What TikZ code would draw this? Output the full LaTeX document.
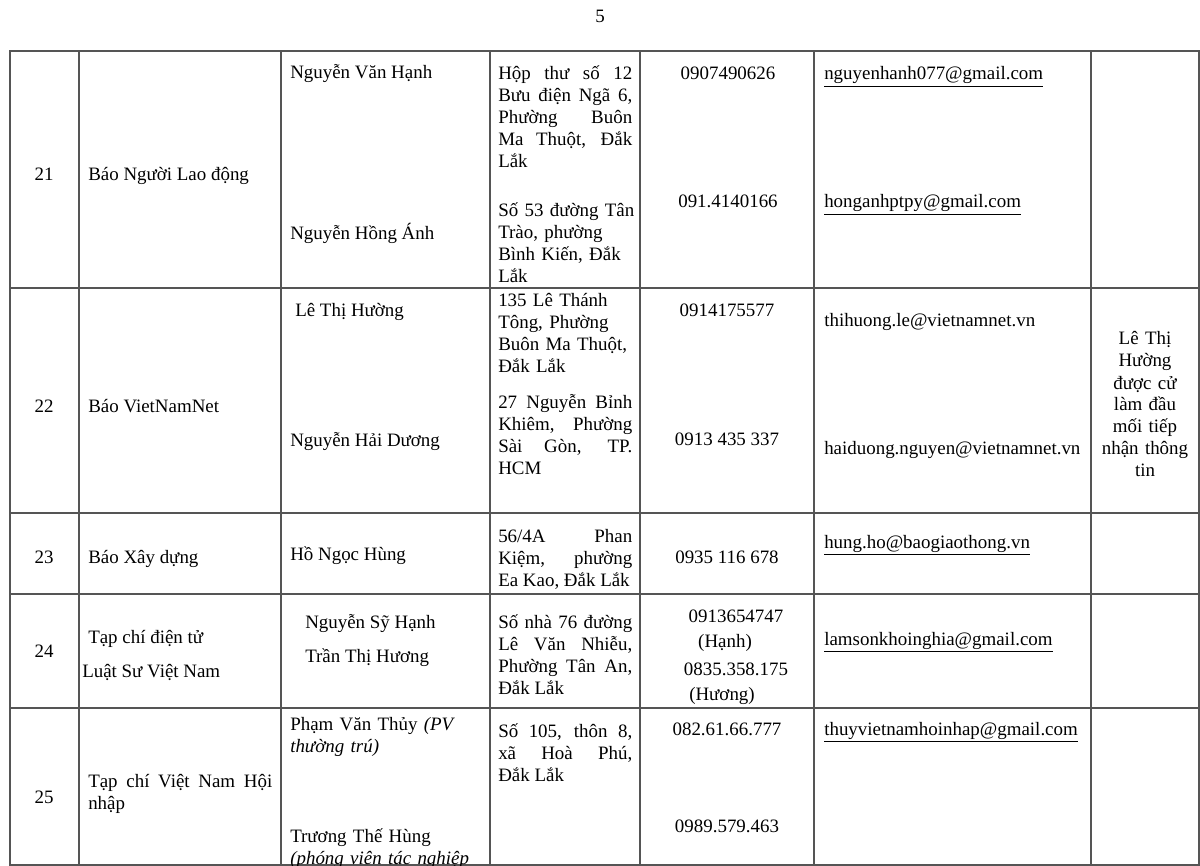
\documentclass[tikz,border=0pt]{standalone}
\usepackage{fontspec}
\setmainfont{Liberation Serif}
\definecolor{rulegray}{RGB}{85, 85, 85}
\tolerance=9999
\hyphenpenalty=10000
\tikzset{
  cell/.style={inner sep=0pt, font=\fontsize{14.2}{16.5}\selectfont},
  lft/.style={cell, anchor=base west},
  ctr/.style={cell, anchor=base},
  block/.style={cell, anchor=base west, text width=#1, align=left},
  jblock/.style={cell, anchor=base west, text width=#1, align=justify},
  note/.style={cell, anchor=base, text width=#1, align=center},
  rule/.style={draw=rulegray, line width=1.1pt}
}

\begin{document}
\begin{tikzpicture}[x=0.75pt, y=-0.75pt]
  \useasboundingbox (0,0) rectangle (1200,866);

  % Page number
  \node[ctr] (page) at (600,23) {5};

  % Grid
  \draw[rule] (10,51) rectangle (1199,865);
  \draw[rule] (10,288) -- (1199,288) (10,513) -- (1199,513)
    (10,594) -- (1199,594) (10,708) -- (1199,708);
  \draw[rule] (79,51) -- (79,865) (281,51) -- (281,865) (490,51) -- (490,865)
    (640,51) -- (640,865) (814,51) -- (814,865) (1091,51) -- (1091,865);

  % Row 21
  \node[ctr] (num21) at (44,181) {21};
  \node[lft] (org21) at (88,181) {Báo Người Lao động};
  \node[lft] (name21a) at (290,79) {Nguyễn Văn Hạnh};
  \node[lft] (name21b) at (290,240) {Nguyễn Hồng Ánh};
  \node[jblock=100.5pt] (addr21a) at (498,80) {Hộp thư số 12\linebreak Bưu điện Ngã 6,\linebreak Phường Buôn\linebreak Ma Thuột, Đắk\linebreak Lắk};
  \node[block=108pt] (addr21b) at (498,217) {Số 53 đường Tân\\ Trào, phường\\ Bình Kiến, Đắk\\ Lắk};
  \node[ctr] (tel21a) at (728,80) {0907490626};
  \node[ctr] (tel21b) at (728,208) {091.4140166};
  \node[lft] (mail21a) at (824,80) {\underline{nguyenhanh077@gmail.com}};
  \node[lft] (mail21b) at (824,208) {\underline{honganhptpy@gmail.com}};

  % Row 22
  \node[ctr] (num22) at (44,412) {22};
  \node[lft] (org22) at (88,412) {Báo VietNamNet};
  \node[lft] (name22a) at (295,317) {Lê Thị Hường};
  \node[lft] (name22b) at (290,446) {Nguyễn Hải Dương};
  \node[block=108pt] (addr22a) at (498,307) {135 Lê Thánh\\ Tông, Phường\\ Buôn Ma Thuột,\\ Đắk Lắk};
  \node[jblock=100.5pt] (addr22b) at (498,408) {27 Nguyễn Bỉnh\linebreak Khiêm, Phường\linebreak Sài Gòn, TP.\linebreak HCM};
  \node[ctr] (tel22a) at (727,317) {0914175577};
  \node[ctr] (tel22b) at (727,445) {0913 435 337};
  \node[lft] (mail22a) at (824,327) {thihuong.le@vietnamnet.vn};
  \node[lft] (mail22b) at (824,455) {haiduong.nguyen@vietnamnet.vn};
  \node[note=70pt] (note22) at (1145,345) {Lê Thị\\ Hường\\ được cử\\ làm đầu\\ mối tiếp\\ nhận thông\\ tin};

  % Row 23
  \node[ctr] (num23) at (44,563) {23};
  \node[lft] (org23) at (88,563) {Báo Xây dựng};
  \node[lft] (name23) at (290,560) {Hồ Ngọc Hùng};
  \node[jblock=100.5pt] (addr23) at (498,542) {56/4A Phan\linebreak Kiệm, phường\linebreak Ea Kao, Đắk Lắk};
  \node[ctr] (tel23) at (727,563) {0935 116 678};
  \node[lft] (mail23) at (824,548) {\underline{hung.ho@baogiaothong.vn}};

  % Row 24
  \node[ctr] (num24) at (44,657) {24};
  \node[lft] (org24a) at (88,643) {Tạp chí điện tử};
  \node[lft] (org24b) at (82,677) {Luật Sư Việt Nam};
  \node[lft] (name24a) at (305,628) {Nguyễn Sỹ Hạnh};
  \node[lft] (name24b) at (305,662) {Trần Thị Hương};
  \node[jblock=100.5pt] (addr24) at (498,628) {Số nhà 76 đường\linebreak Lê Văn Nhiễu,\linebreak Phường Tân An,\linebreak Đắk Lắk};
  \node[ctr] (tel24a) at (736,622) {0913654747};
  \node[ctr] (tel24b) at (725,647) {(Hạnh)};
  \node[ctr] (tel24c) at (736,675) {0835.358.175};
  \node[ctr] (tel24d) at (722,700) {(Hương)};
  \node[lft] (mail24) at (824,645) {\underline{lamsonkhoinghia@gmail.com}};

  % Row 25
  \node[ctr] (num25) at (44,803) {25};
  \node[jblock=138pt] (org25) at (88,787) {Tạp chí Việt Nam Hội\linebreak nhập};
  \node[block=140pt] (name25a) at (290,730) {Phạm Văn Thủy \textit{(PV}\\ \textit{thường trú)}};
  \node[block=140pt] (name25b) at (290,842) {Trương Thế Hùng\\ \textit{(phóng viên tác nghiệp}};
  \node[jblock=100.5pt] (addr25) at (498,737) {Số 105, thôn 8,\linebreak xã Hoà Phú,\linebreak Đắk Lắk};
  \node[ctr] (tel25a) at (727,735) {082.61.66.777};
  \node[ctr] (tel25b) at (727,832) {0989.579.463};
  \node[lft] (mail25) at (824,735) {\underline{thuyvietnamhoinhap@gmail.com}};
\end{tikzpicture}
\end{document}
